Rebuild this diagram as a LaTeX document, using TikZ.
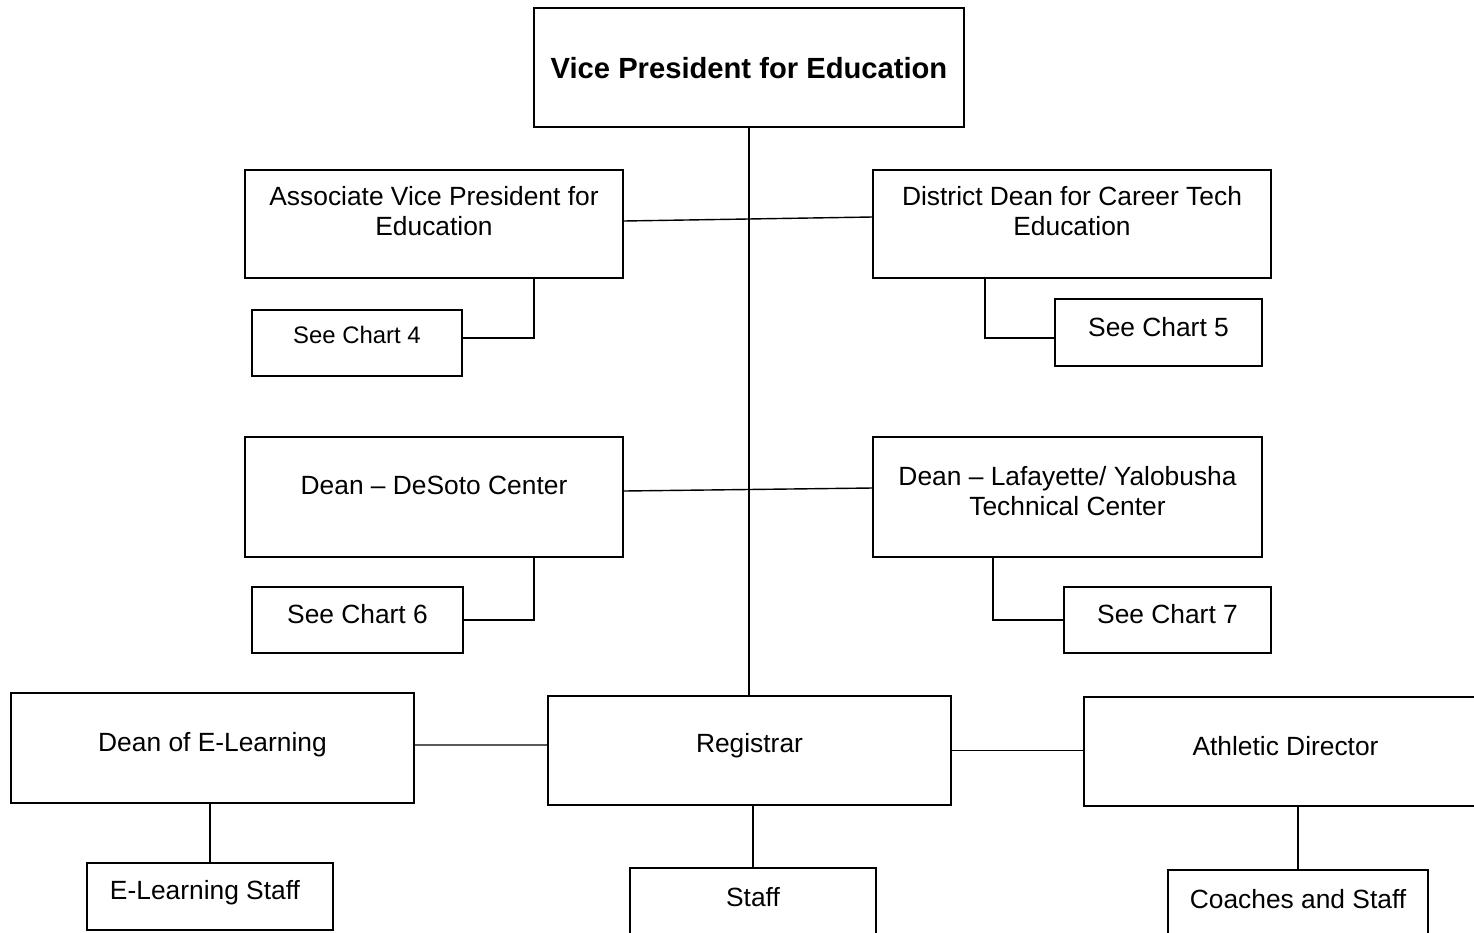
\documentclass[tikz,border=0pt]{standalone}
\usepackage{fontspec}
\setmainfont{Liberation Sans}
\begin{document}
\begin{tikzpicture}[font=\fontsize{15}{17}\selectfont,
    box/.style={draw,line width=1pt,inner sep=0pt},
    txt/.style={align=center,inner sep=0pt},
    link/.style={line width=0.8pt}]
    \useasboundingbox (0,0) rectangle (29.48,-18.64);
    \clip (0,0) rectangle (29.48,-18.64);

    % top
    \node[box,minimum width=8.6cm,minimum height=2.38cm] (vp) at (14.98,-1.35) {};
    \node[txt,font=\fontsize{16.6}{19}\selectfont\bfseries] (vp-t) at ([yshift=-.02cm]vp.center) {Vice President for Education};

    % second row
    \node[box,minimum width=7.56cm,minimum height=2.16cm] (avp) at (8.68,-4.48) {};
    \node[txt] (avp-t) at ([yshift=.26cm]avp.center) {Associate Vice President for\\Education};

    \node[box,minimum width=7.96cm,minimum height=2.16cm] (dd) at (21.44,-4.48) {};
    \node[txt] (dd-t) at ([yshift=.26cm]dd.center) {District Dean for Career Tech\\Education};

    \node[box,minimum width=4.2cm,minimum height=1.32cm] (sc4) at (7.14,-6.86) {};
    \node[txt,font=\fontsize{13.6}{16}\selectfont] (sc4-t) at ([yshift=.16cm]sc4.center) {See Chart 4};

    \node[box,minimum width=4.14cm,minimum height=1.34cm] (sc5) at (23.17,-6.65) {};
    \node[txt] (sc5-t) at ([yshift=.1cm]sc5.center) {See Chart 5};

    % third row
    \node[box,minimum width=7.56cm,minimum height=2.4cm] (ds) at (8.68,-9.94) {};
    \node[txt] (ds-t) at ([yshift=.24cm]ds.center) {Dean -- DeSoto Center};

    \node[box,minimum width=7.78cm,minimum height=2.4cm] (ly) at (21.35,-9.94) {};
    \node[txt] (ly-t) at ([yshift=.12cm]ly.center) {Dean -- Lafayette/ Yalobusha\\Technical Center};

    \node[box,minimum width=4.22cm,minimum height=1.32cm] (sc6) at (7.15,-12.4) {};
    \node[txt] (sc6-t) at ([yshift=.12cm]sc6.center) {See Chart 6};

    \node[box,minimum width=4.14cm,minimum height=1.32cm] (sc7) at (23.35,-12.4) {};
    \node[txt] (sc7-t) at ([yshift=.12cm]sc7.center) {See Chart 7};

    % bottom row
    \node[box,minimum width=8.06cm,minimum height=2.2cm] (el) at (4.25,-14.96) {};
    \node[txt] (el-t) at ([yshift=.06cm]el.center) {Dean of E-Learning};

    \node[box,minimum width=8.06cm,minimum height=2.18cm] (reg) at (14.99,-15.01) {};
    \node[txt] (reg-t) at ([yshift=.09cm]reg.center) {Registrar};

    \node[box,minimum width=8.06cm,minimum height=2.18cm] (ad) at (25.71,-15.03) {};
    \node[txt] (ad-t) at ([yshift=.1cm]ad.center) {Athletic Director};

    \node[box,minimum width=4.92cm,minimum height=1.34cm] (els) at (4.2,-17.93) {};
    \node[txt] (els-t) at (4.1,-17.86) {E-Learning Staff};

    \node[box,minimum width=4.92cm,minimum height=1.36cm] (st) at (15.06,-18.04) {};
    \node[txt] (st-t) at ([yshift=.1cm]st.center) {Staff};

    \node[box,minimum width=5.2cm,minimum height=1.32cm] (cs) at (25.96,-18.06) {};
    \node[txt] (cs-t) at ([yshift=.08cm]cs.center) {Coaches and Staff};

    % lines
    \draw[link] (vp.south) -- (vp.south |- reg.north);
    \draw[link] ([yshift=.06cm]avp.east) -- ([yshift=.14cm]dd.west);
    \draw[link] ([yshift=.1cm]sc4.east) -| ([xshift=2cm]avp.south);
    \draw[link] ([yshift=-.11cm]sc5.west) -| ([xshift=-1.74cm]dd.south);
    \draw[link] ([yshift=.12cm]ds.east) -- ([yshift=.18cm]ly.west);
    \draw[link] (sc6.east) -| ([xshift=2cm]ds.south);
    \draw[link] (sc7.west) -| ([xshift=-1.49cm]ly.south);
    \draw[link] ([yshift=.06cm]el.east) -- ([yshift=.11cm]reg.west);
    \draw[link] (reg.east) -- (reg.east -| ad.west);
    \draw[link] (els.north) -- (els.north |- el.south);
    \draw[link] (st.north) -- (st.north |- reg.south);
    \draw[link] (cs.north) -- (cs.north |- ad.south);
\end{tikzpicture}
\end{document}
